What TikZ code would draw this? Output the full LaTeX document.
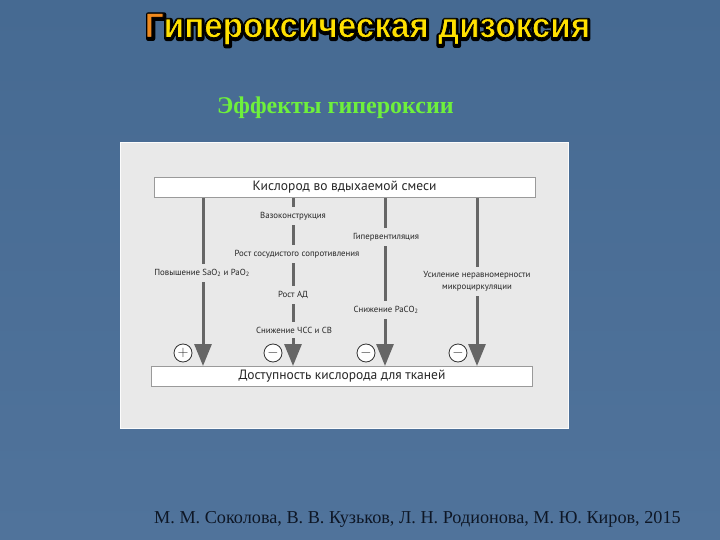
\documentclass[tikz,border=0pt]{standalone}
\usepackage{fontspec}
\setmainfont{Liberation Serif}
\newfontfamily\diagfont{PT Sans}
\newfontfamily\titlefont{Liberation Sans}
\usetikzlibrary{arrows.meta}
\definecolor{bgtop}{HTML}{466A92}
\definecolor{bgbot}{HTML}{50739B}
\definecolor{panel}{HTML}{E9E9E9}
\definecolor{linegray}{HTML}{666666}
\definecolor{boxedge}{HTML}{9A9A9A}
\definecolor{ttlyellow}{HTML}{FFE000}
\definecolor{ttlorange}{HTML}{F08A1E}
\definecolor{subgreen}{HTML}{6EF03C}
\definecolor{footcol}{HTML}{0E1726}
\newcommand{\blackstroke}{\special{pdf:code 0 0 0 RG}}
\tikzset{
  mainbox/.style={draw=boxedge, line width=1pt, fill=white, minimum width=381pt, minimum height=20pt,
     inner sep=0pt, font=\diagfont\fontsize{13.5}{14}\selectfont, text=black!85},
  lbl/.style={fill=panel, inner sep=0pt, inner ysep=5pt, font=\diagfont\fontsize{8.8}{10}\selectfont, text=black!85, align=center},
  arr/.style={draw=linegray, line width=3pt, -{Triangle[length=22pt,width=17pt]}},
  sign/.style={circle, draw=black!80, line width=0.8pt, minimum size=18pt, inner sep=0pt, fill=white!97!panel,
     font=\fontsize{15}{15}\selectfont, text=black!80},
  ttl/.style={font=\titlefont\bfseries\fontsize{35}{36}\selectfont, xscale=0.95, inner sep=0pt},
}
\begin{document}
\begin{tikzpicture}[x=1pt,y=-1pt]
\useasboundingbox (0,0) rectangle (720,540);
\shade[top color=bgtop, bottom color=bgbot] (0,0) rectangle (720,540);
% title: thick black outline + shadow layer, then yellow layer
\node[ttl, text=black] (titleshadow) at (368.3,30.3) {\special{pdf:code 2 Tr 4.6 w 1 j}\blackstroke Гипероксическая дизоксия\special{pdf:code 0 Tr}};
\node[ttl, text=ttlyellow] (title) at (367.5,29) {\special{pdf:code 2 Tr 0.8 w 1 j}\blackstroke{\color{ttlorange}\blackstroke Г}\blackstroke ипероксическая дизоксия\special{pdf:code 0 Tr}};
% subtitle
\node[font=\bfseries\fontsize{24}{26}\selectfont, text=subgreen, inner sep=0pt] (subtitle) at (335.5,108) {Эффекты гипероксии};
% panel
\node[draw=white!85!panel, line width=1pt, fill=panel, minimum width=448pt, minimum height=285pt, inner sep=0pt] (panel) at (344,285.5) {};
% boxes
\node[mainbox] (top) at (344.5,187.5) {Кислород во вдыхаемой смеси};
\node[mainbox] (bot) at (342,376.5) {Доступность кислорода для тканей};
% column coordinates
\coordinate (c1) at (203,0);
\coordinate (c2) at (293,0);
\coordinate (c3) at (385,0);
\coordinate (c4) at (477,0);
% arrows
\draw[arr] (top.south -| c1) -- (bot.north -| c1);
\draw[arr] (top.south -| c2) -- (bot.north -| c2);
\draw[arr] (top.south -| c3) -- (bot.north -| c3);
\draw[arr] (top.south -| c4) -- (bot.north -| c4);
% labels
\node[lbl] (l1) at (202,273) {Повышение SaO\textsubscript{2} и PaO\textsubscript{2}};
\node[lbl] (l2a) at (293,216) {Вазоконструкция};
\node[lbl] (l2b) at (297,254) {Рост сосудистого сопротивления};
\node[lbl] (l2c) at (293,295) {Рост АД};
\node[lbl] (l2d) at (294,330) {Снижение ЧСС и СВ};
\node[lbl] (l3a) at (386,237) {Гипервентиляция};
\node[lbl] (l3b) at (386,310) {Снижение PaCO\textsubscript{2}};
\node[lbl, font=\diagfont\fontsize{8.8}{11.5}\selectfont] (l4) at (477,281.5) {Усиление неравномерности\\микроциркуляции};
% signs
\node[sign] (s1) at (183,353) {$+$};
\node[sign] (s2) at (273,353) {$-$};
\node[sign] (s3) at (366,353) {$-$};
\node[sign] (s4) at (458,353) {$-$};
% footer
\node[font=\fontsize{18.2}{20}\selectfont, text=footcol, inner sep=0pt] (footer) at (417.5,519) {М. М. Соколова, В. В. Кузьков, Л. Н. Родионова, М. Ю. Киров, 2015};
\end{tikzpicture}
\end{document}
